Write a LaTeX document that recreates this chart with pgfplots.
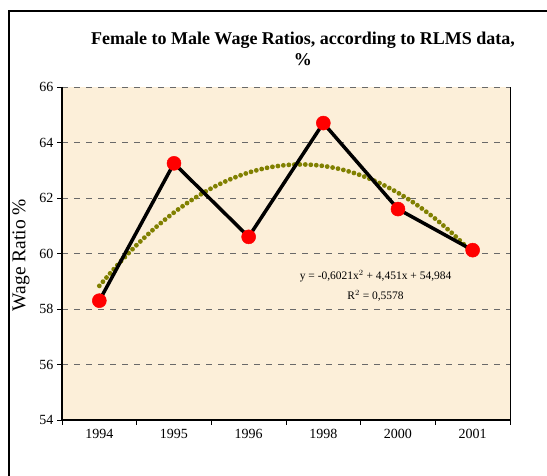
\documentclass[border=0pt]{standalone}
\usepackage{pgfplots}
\pgfplotsset{compat=1.18}
\usepackage{fontspec}
\setmainfont{Liberation Serif}
\definecolor{bg}{RGB}{252,239,217}
\definecolor{trend}{RGB}{128,128,0}
\definecolor{gridc}{RGB}{105,105,105}
\begin{document}
\begin{tikzpicture}[x=1pt,y=1pt]
\useasboundingbox (0,0) rectangle (547,476);
\draw[line width=1.5pt] (9,-5) -- (9,465) -- (560,465);
\node[font=\fontsize{18}{21}\selectfont\bfseries, align=center] at (303,427) {Female to Male Wage Ratios, according to RLMS data,\\ \%};
\node[rotate=90, font=\fontsize{19.5}{22}\selectfont] at (21,221) {Wage Ratio \%};
\begin{axis}[at={(62pt,56pt)}, anchor=south west, width=448pt, height=333pt, scale only axis,
  xmin=0.5, xmax=6.5, ymin=54, ymax=66, ytick={54,56,...,66},
  xtick={0.5,1.5,...,6.5}, xticklabel=\empty,
  extra x ticks={1,2,3,4,5,6},
  extra x tick labels={1994,1995,1996,1998,2000,2001},
  extra x tick style={major tick length=0pt, grid=none, xticklabel style={yshift=-6pt}},
  ymajorgrids, grid style={gridc, dash pattern=on 6pt off 6pt, line width=0.8pt},
  axis line style={draw=none},
  tick style={black, line width=0.9pt}, major tick length=5pt, tick align=outside,
  xtick pos=bottom, ytick pos=left,
  axis background/.style={fill=bg},
  tick label style={font=\fontsize{14}{16}\selectfont},
  /pgf/number format/assume math mode=true,
  clip=false]
\draw[line width=1.5pt] (rel axis cs:0,1) -- (rel axis cs:0,0) -- (rel axis cs:1,0);
\draw[line width=0.8pt] (rel axis cs:1,0) -- (rel axis cs:1,1);
\addplot[trend, line width=4.8pt, line cap=round, dash pattern=on 0pt off 5.5pt, smooth] coordinates {
(1,58.8329) (1.25,59.6070) (1.5,60.3058) (1.75,60.9293) (2,61.4776) (2.25,61.9506)
(2.5,62.3484) (2.75,62.6709) (3,62.9181) (3.25,63.0901) (3.5,63.1868) (3.75,63.2082)
(4,63.1544) (4.25,63.0253) (4.5,62.8210) (4.75,62.5414) (5,62.1865) (5.25,61.7564)
(5.5,61.2510) (5.75,60.6703) (6,60.0144)};
\addplot[black, line width=3.5pt, mark=*, mark size=7pt, mark options={fill=red, draw=red, line width=0.5pt}] coordinates {
(1,58.3) (2,63.25) (3,60.6) (4,64.7) (5,61.6) (6,60.12)};
\node[font=\fontsize{11.5}{20}\selectfont, align=center] at (axis cs:4.7,58.83) {y = -0,6021x$^{2}$ + 4,451x + 54,984\\R$^{2}$ = 0,5578};
\end{axis}
\end{tikzpicture}
\end{document}
